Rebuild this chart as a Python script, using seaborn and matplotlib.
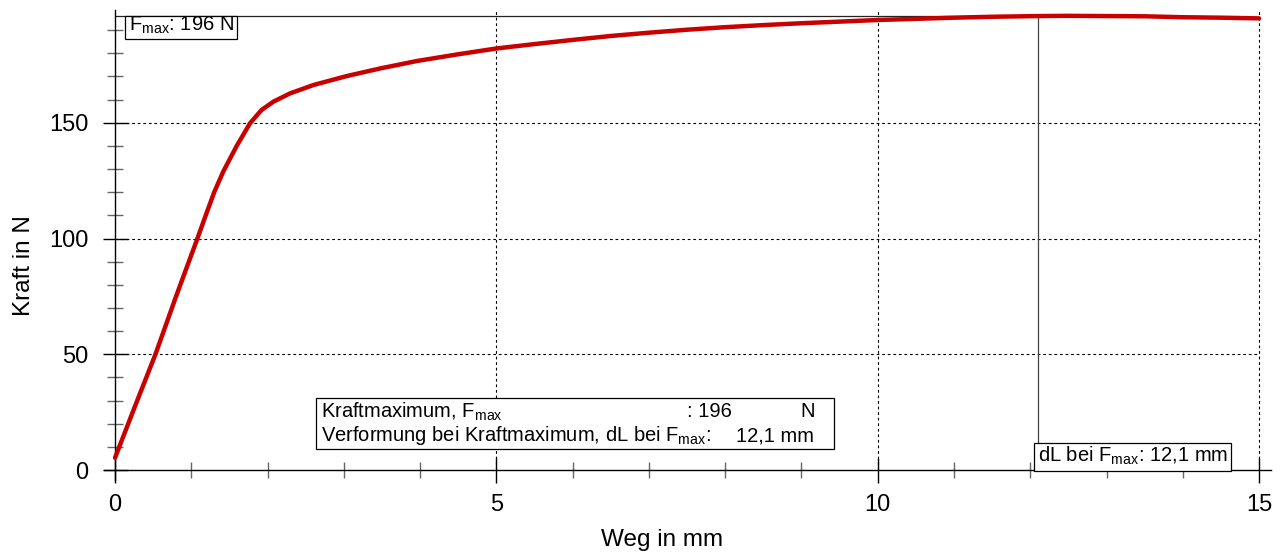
import matplotlib
matplotlib.use('Agg')
import matplotlib.pyplot as plt
import seaborn as sns
from matplotlib.ticker import MultipleLocator
from matplotlib.patches import Rectangle

# Kraft-Weg-Kurve
weg_mm = [0, 0.26, 0.53, 0.8, 1.08, 1.2, 1.3, 1.42, 1.595, 1.77, 1.92, 2.075, 2.295, 2.60,
          3.04, 3.48, 3.96, 4.5, 5.0, 5.5, 6.0, 6.5, 7.03, 7.5, 8.0, 8.5, 9.0, 9.5,
          10.0, 10.5, 11.0, 11.5, 12.1, 12.5, 13.0, 13.5, 14.0, 14.5, 15.0]
kraft_n = [5.3, 27.4, 50, 75, 100, 111, 120, 129, 140, 149.8, 155.5, 159.1, 162.7, 166.3,
           170.2, 173.5, 176.7, 179.6, 182.1, 184, 185.8, 187.5, 189.0, 190.2, 191.3, 192.2, 193.0, 193.7,
           194.4, 194.9, 195.4, 195.8, 196.1, 196.2, 196.1, 196.0, 195.6, 195.4, 195.1]

f_max = 196.1
dl_fmax = 12.1
x_ticks = [0, 5, 10, 15]
y_ticks = [0, 50, 100, 150]

sns.set_style('white')
plt.rcParams['font.family'] = ['Liberation Sans', 'DejaVu Sans']
plt.rcParams['mathtext.default'] = 'regular'
plt.rcParams['text.color'] = 'black'
plt.rcParams['axes.labelcolor'] = 'black'

fig = plt.figure(figsize=(12.83, 5.55), dpi=100)
ax = fig.add_axes([0.0811, 0.1351, 0.9096, 0.8468])

# grid (dotted, major only)
ax.hlines(y_ticks[1:], 0, 15, colors='black', linestyles=(0, (2.5, 2.5)), linewidth=0.8, zorder=1)
ax.vlines(x_ticks[1:], 0, 198.7, colors='black', linestyles=(0, (2.5, 2.5)), linewidth=0.8, zorder=1)

# Fmax marker lines
ax.hlines(f_max, 0, dl_fmax, colors='#222222', linewidth=0.9, zorder=2)
ax.vlines(dl_fmax, 0, f_max, colors='#444444', linewidth=0.9, zorder=2)

sns.lineplot(x=weg_mm, y=kraft_n, color='#c80000', linewidth=3.2, estimator=None, sort=False, ax=ax, zorder=3)

ax.set_xlim(-0.144, 15.157)
ax.set_ylim(-4.32, 198.7)
ax.spines['left'].set_position(('data', 0))
ax.spines['bottom'].set_position(('data', 0))
ax.spines['top'].set_visible(False)
ax.spines['right'].set_visible(False)
for s in ['left', 'bottom']:
    ax.spines[s].set_color('black')
    ax.spines[s].set_linewidth(1)

ax.set_xticks(x_ticks)
ax.set_yticks(y_ticks)
ax.xaxis.set_minor_locator(MultipleLocator(1))
ax.yaxis.set_minor_locator(MultipleLocator(10))
ax.tick_params(which='both', bottom=True, left=True)
ax.tick_params(which='major', direction='inout', length=18, width=1, color='black',
               labelcolor='black', labelsize=17)
ax.tick_params(which='minor', direction='inout', length=12, width=1, color='#666666')
ax.tick_params(axis='x', which='major', pad=8.5)
ax.tick_params(axis='y', which='major', pad=10)

ax.set_xlabel('Weg in mm', fontsize=17.5)
ax.set_ylabel('Kraft in N', fontsize=17.5)
ax.xaxis.set_label_coords(0.478, -0.105)
ax.yaxis.set_label_coords(-0.059, 0.457)

# annotation boxes
box_kw = dict(facecolor='white', edgecolor='black', linewidth=0.9, zorder=4)
fs = 14.5
ax.add_patch(Rectangle((0.131, 186.2), 1.47, 9.9, **box_kw))
ax.text(0.18, 192.1, '$F_{max}$: 196 N', fontsize=fs, va='center', ha='left', zorder=5)

ax.add_patch(Rectangle((2.635, 9.07), 6.79, 22.0, **box_kw))
ax.text(2.70, 25.2, 'Kraftmaximum, $F_{max}$', fontsize=fs, va='center', ha='left', zorder=5)
ax.text(7.50, 25.2, ': 196', fontsize=fs, va='center', ha='left', zorder=5)
ax.text(9.17, 25.2, 'N', fontsize=fs, va='center', ha='right', zorder=5)
ax.text(2.70, 14.7, 'Verformung bei Kraftmaximum, dL bei $F_{max}$:', fontsize=fs, va='center', ha='left', zorder=5)
ax.text(9.17, 14.7, '12,1 mm', fontsize=fs, va='center', ha='right', zorder=5)

ax.add_patch(Rectangle((12.05, -0.43), 2.58, 12.1, **box_kw))
ax.text(12.10, 6.3, 'dL bei $F_{max}$: 12,1 mm', fontsize=fs, va='center', ha='left', zorder=5)

fig.savefig('out.png', dpi=100)
